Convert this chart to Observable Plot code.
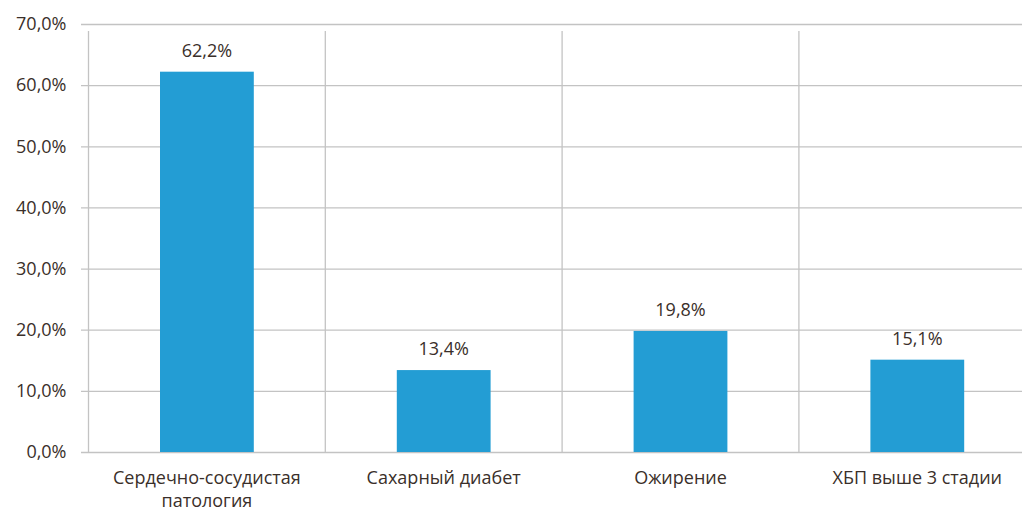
<!DOCTYPE html>
<html>
<head>
<meta charset="utf-8">
<script src="https://cdn.jsdelivr.net/npm/d3@7"></script>
<script src="https://cdn.jsdelivr.net/npm/@observablehq/plot@0.6"></script>
<style>
  html, body { margin: 0; padding: 0; background: #fff; overflow: hidden; }
  #chart svg { overflow: hidden; }
</style>
</head>
<body>
<div id="chart"></div>
<script>
const categories = ["Сердечно-сосудистая патология", "Сахарный диабет", "Ожирение", "ХБП выше 3 стадии"];
const values = [62.2, 13.4, 19.8, 15.1];
const yTicks = [0, 10, 20, 30, 40, 50, 60, 70];

const data = categories.map((c, i) => ({category: c, value: values[i]}));
const fmt = v => v.toFixed(1).replace(".", ",") + "%";

const W = 1022, H = 511;
const left = 88, step = 236.8;
const right = left + step * categories.length;
const textColor = "#3a2f2a";
const gridColor = "#c3c3c3";
const barColor = "#239dd4";
const font = "'Open Sans', sans-serif";

const chart = Plot.plot({
  width: W,
  height: H,
  marginLeft: left,
  marginRight: 0,
  marginTop: 24,
  marginBottom: 59,
  style: {fontFamily: font, fontSize: "18px", color: textColor, background: "#fff"},
  x: {domain: categories, range: [left, right], padding: 0, round: false, label: null},
  y: {domain: [0, 70], label: null},
  marks: [
    Plot.ruleY(yTicks, {stroke: gridColor, strokeWidth: 1.3, insetLeft: -7}),
    Plot.ruleX(categories, {x: d => d, dx: -step / 2, y1: 0, y2: 70, stroke: gridColor, strokeWidth: 1.3, insetBottom: -7}),
    Plot.barY(data, {x: "category", y: "value", fill: barColor, insetLeft: 72, insetRight: 71}),
    Plot.text(data, {x: "category", y: "value", text: d => fmt(d.value), dy: -21, fill: textColor, fontSize: 18}),
    Plot.axisY(yTicks, {tickSize: 0, tickPadding: 22, tickFormat: fmt, fontSize: 18, fill: textColor}),
    Plot.axisX(categories, {tickSize: 0, tickPadding: 15, fontSize: 18, fill: textColor, lineHeight: 1.28,
      tickFormat: d => d.replace(" патология", "\nпатология")})
  ]
});
document.getElementById("chart").appendChild(chart);
</script>
</body>
</html>
